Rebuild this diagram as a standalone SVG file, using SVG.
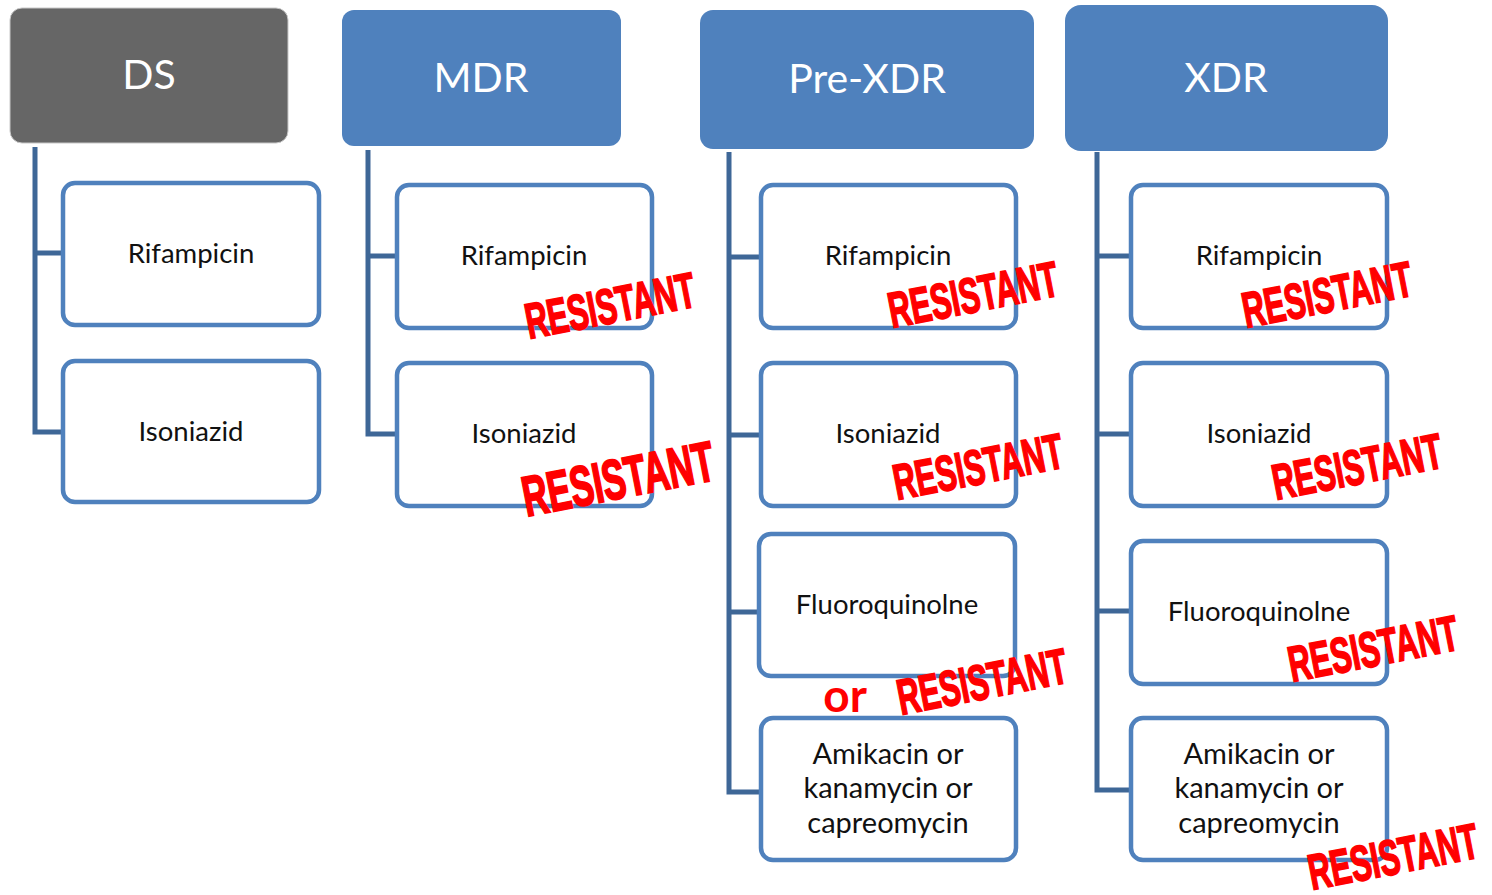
<svg xmlns="http://www.w3.org/2000/svg" width="1492" height="895" viewBox="0 0 1492 895">
  <style>
    .hdr { fill: #4F81BD; }
    .hdr-ds { fill: #666666; stroke: #C8C8C8; stroke-width: 1; }
    .hdr-text { font-family: Lato, "Open Sans", sans-serif; font-size: 41px; fill: #FFFFFF; text-anchor: middle; }
    .box { fill: #FFFFFF; stroke: #4F81BD; stroke-width: 4.5; }
    .lbl { font-family: Lato, "Open Sans", sans-serif; font-size: 27.5px; fill: #111111; text-anchor: middle; }
    .lbl-lg { font-size: 29px; }
    .conn { fill: none; stroke: #3E6797; stroke-width: 5; stroke-linejoin: miter; }
    .stamp { font-family: "Liberation Sans", Arial, sans-serif; font-weight: bold; font-size: 50px; fill: #FF0000; stroke: #FF0000; stroke-width: 1.8; text-anchor: middle; }
    .or { font-family: Lato, "Open Sans", sans-serif; font-weight: bold; font-size: 46px; fill: #FF0000; text-anchor: middle; }
  </style>

  <!-- tree connectors -->
  <g id="connectors">
    <path class="conn" d="M35,147 V432 H62 M35,253 H62"/>
    <path class="conn" d="M368,150 V434 H396 M368,256 H396"/>
    <path class="conn" d="M729,152 V792 H760 M729,257 H760 M729,435 H760 M729,612 H758"/>
    <path class="conn" d="M1097,152 V790 H1130 M1097,256 H1130 M1097,434 H1130 M1097,611 H1130"/>
  </g>

  <!-- DS column -->
  <g id="ds">
    <rect class="hdr-ds" x="10" y="8" width="278" height="135" rx="12"/>
    <text class="hdr-text" x="149" y="89">DS</text>
  </g>
  <g id="ds-rifampicin">
    <rect class="box" x="63" y="183" width="256" height="142" rx="12"/>
    <text class="lbl" x="191" y="263">Rifampicin</text>
  </g>
  <g id="ds-isoniazid">
    <rect class="box" x="63" y="361" width="256" height="141" rx="12"/>
    <text class="lbl" x="191" y="441">Isoniazid</text>
  </g>

  <!-- MDR column -->
  <g id="mdr">
    <rect class="hdr" x="342" y="10" width="279" height="136" rx="12"/>
    <text class="hdr-text" x="481" y="92">MDR</text>
  </g>
  <g id="mdr-rifampicin">
    <rect class="box" x="397" y="185" width="255" height="143" rx="12"/>
    <text class="lbl" x="524" y="265">Rifampicin</text>
  </g>
  <g id="mdr-isoniazid">
    <rect class="box" x="397" y="363" width="255" height="143" rx="12"/>
    <text class="lbl" x="524" y="443">Isoniazid</text>
  </g>

  <!-- Pre-XDR column -->
  <g id="pre-xdr">
    <rect class="hdr" x="700" y="10" width="334" height="139" rx="13"/>
    <text class="hdr-text" x="867" y="93">Pre-XDR</text>
  </g>
  <g id="pre-xdr-rifampicin">
    <rect class="box" x="761" y="185" width="255" height="143" rx="12"/>
    <text class="lbl" x="888" y="265">Rifampicin</text>
  </g>
  <g id="pre-xdr-isoniazid">
    <rect class="box" x="761" y="363" width="255" height="143" rx="12"/>
    <text class="lbl" x="888" y="443">Isoniazid</text>
  </g>
  <g id="pre-xdr-fluoroquinolone">
    <rect class="box" x="759" y="534" width="256" height="142" rx="12"/>
    <text class="lbl" x="887" y="614">Fluoroquinolne</text>
  </g>
  <g id="pre-xdr-aminoglycoside">
    <rect class="box" x="761" y="718" width="255" height="142" rx="12"/>
    <text class="lbl lbl-lg" x="888" y="764">Amikacin or</text>
    <text class="lbl lbl-lg" x="888" y="798">kanamycin or</text>
    <text class="lbl lbl-lg" x="888" y="833">capreomycin</text>
  </g>

  <!-- XDR column -->
  <g id="xdr">
    <rect class="hdr" x="1065" y="5" width="323" height="146" rx="16"/>
    <text class="hdr-text" x="1226" y="92">XDR</text>
  </g>
  <g id="xdr-rifampicin">
    <rect class="box" x="1131" y="185" width="256" height="143" rx="12"/>
    <text class="lbl" x="1259" y="265">Rifampicin</text>
  </g>
  <g id="xdr-isoniazid">
    <rect class="box" x="1131" y="363" width="256" height="143" rx="12"/>
    <text class="lbl" x="1259" y="443">Isoniazid</text>
  </g>
  <g id="xdr-fluoroquinolone">
    <rect class="box" x="1131" y="541" width="256" height="143" rx="12"/>
    <text class="lbl" x="1259" y="621">Fluoroquinolne</text>
  </g>
  <g id="xdr-aminoglycoside">
    <rect class="box" x="1131" y="718" width="256" height="142" rx="12"/>
    <text class="lbl lbl-lg" x="1259" y="764">Amikacin or</text>
    <text class="lbl lbl-lg" x="1259" y="798">kanamycin or</text>
    <text class="lbl lbl-lg" x="1259" y="833">capreomycin</text>
  </g>

  <!-- resistance stamps -->
  <g id="stamps">
    <text class="stamp" transform="translate(610,305) rotate(-11)" x="0" y="18" textLength="172" lengthAdjust="spacingAndGlyphs">RESISTANT</text>
    <text class="stamp" transform="translate(618,478) rotate(-11) scale(1.13)" x="0" y="18" textLength="172" lengthAdjust="spacingAndGlyphs">RESISTANT</text>
    <text class="stamp" transform="translate(973,294) rotate(-11)" x="0" y="18" textLength="172" lengthAdjust="spacingAndGlyphs">RESISTANT</text>
    <text class="stamp" transform="translate(978,466) rotate(-11)" x="0" y="18" textLength="172" lengthAdjust="spacingAndGlyphs">RESISTANT</text>
    <text class="stamp" transform="translate(982,681) rotate(-11)" x="0" y="18" textLength="172" lengthAdjust="spacingAndGlyphs">RESISTANT</text>
    <text class="stamp" transform="translate(1327,294) rotate(-11)" x="0" y="18" textLength="172" lengthAdjust="spacingAndGlyphs">RESISTANT</text>
    <text class="stamp" transform="translate(1357,466) rotate(-11)" x="0" y="18" textLength="172" lengthAdjust="spacingAndGlyphs">RESISTANT</text>
    <text class="stamp" transform="translate(1373,648) rotate(-11)" x="0" y="18" textLength="172" lengthAdjust="spacingAndGlyphs">RESISTANT</text>
    <text class="stamp" transform="translate(1393,856) rotate(-11)" x="0" y="18" textLength="172" lengthAdjust="spacingAndGlyphs">RESISTANT</text>
    <text class="or" x="845" y="712">or</text>
  </g>
</svg>
